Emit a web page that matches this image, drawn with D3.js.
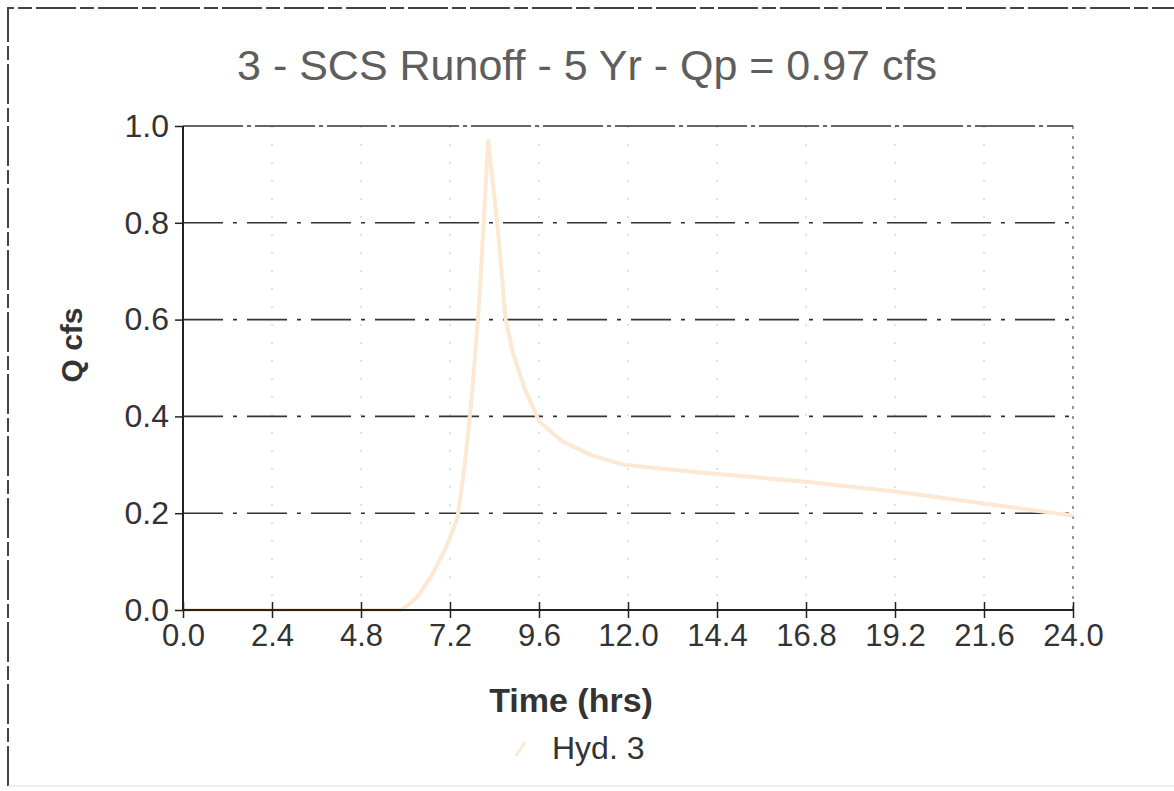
<!DOCTYPE html>
<html><head><meta charset="utf-8">
<script src="https://cdn.jsdelivr.net/npm/d3@7"></script>
<style>body{margin:0;background:#fff;} svg{display:block;font-family:"Liberation Sans",Arial,sans-serif;}</style>
</head><body>
<svg id="c" width="1174" height="791"></svg>
<script>
const titleText = "3 - SCS Runoff - 5 Yr - Qp = 0.97 cfs";
const xLabel = "Time (hrs)";
const yLabel = "Q cfs";
const seriesName = "Hyd. 3";
const xTicks = [0, 2.4, 4.8, 7.2, 9.6, 12.0, 14.4, 16.8, 19.2, 21.6, 24.0];
const yTicks = [0, 0.2, 0.4, 0.6, 0.8, 1.0];
const timeHrs = [0, 2.0, 4.0, 5.9, 6.3, 6.7, 7.1, 7.4, 7.6, 7.8, 8.0, 8.23, 8.5, 8.7, 8.9, 9.2, 9.6, 10.2, 11.0, 11.9, 13.8, 16.8, 19.2, 21.6, 24.0];
const flowCfs = [0, 0, 0, 0, 0.025, 0.07, 0.13, 0.19, 0.30, 0.45, 0.65, 0.97, 0.78, 0.60, 0.53, 0.46, 0.39, 0.35, 0.32, 0.30, 0.285, 0.265, 0.245, 0.22, 0.195];

const svg = d3.select("#c");
const x = d3.scaleLinear().domain([0, 24]).range([183, 1073]);
const y = d3.scaleLinear().domain([0, 1]).range([610, 126]);

// outer frame (scanned border)
svg.append("path").attr("d", "M8,786 L8,8 L1174,8")
  .attr("fill", "none").attr("stroke", "#444").attr("stroke-width", 2)
  .attr("stroke-dasharray", "40,4,14,4");
svg.append("line").attr("x1", 8).attr("x2", 1174).attr("y1", 786).attr("y2", 786)
  .attr("stroke", "#ddd").attr("stroke-width", 1);

// title
svg.append("text").attr("x", 587).attr("y", 80).attr("text-anchor", "middle")
  .attr("font-size", 43).attr("fill", "#5e5e5e").text(titleText);

// vertical faint dotted gridlines
svg.append("g").selectAll("line").data(xTicks.slice(1, -1)).join("line")
  .attr("x1", d => x(d)).attr("x2", d => x(d)).attr("y1", y(1)).attr("y2", y(0))
  .attr("stroke", "#c4c4c4").attr("stroke-width", 1).attr("stroke-dasharray", "2,16");
// right frame dotted
svg.append("line").attr("x1", x(24)).attr("x2", x(24)).attr("y1", y(1)).attr("y2", y(0))
  .attr("stroke", "#777").attr("stroke-width", 1.5).attr("stroke-dasharray", "3,7");

// horizontal dashed gridlines
svg.append("g").selectAll("line").data(yTicks.slice(1)).join("line")
  .attr("x1", x(0)).attr("x2", x(24)).attr("y1", d => y(d)).attr("y2", d => y(d))
  .attr("stroke", "#333").attr("stroke-width", 1.6)
  .attr("stroke-dasharray", d => d === 1 ? "60,4,4,4" : "40,10,4,10");

// curve
const line = d3.line().x((d, i) => x(timeHrs[i])).y(d => y(d)).curve(d3.curveLinear);
svg.append("path").datum(flowCfs).attr("d", line)
  .attr("fill", "none").attr("stroke", "#fde8d3").attr("stroke-width", 4)
  .attr("stroke-linejoin", "round");

// axes
const xAxis = d3.axisBottom(x).tickValues(xTicks).tickFormat(d3.format(".1f")).tickSize(7);
const gx = svg.append("g").attr("transform", `translate(0,${y(0)})`).call(xAxis);
gx.select(".domain").attr("d", `M${x(0)},0H${x(24)}`).attr("stroke", "#222").attr("stroke-width", 2);
gx.selectAll(".tick line").attr("y1", -8).attr("y2", 8).attr("stroke", "#222").attr("stroke-width", 1.5);
gx.selectAll(".tick text").attr("y", 14).attr("font-size", 31).attr("fill", "#333").attr("font-family", "Liberation Sans, Arial, sans-serif");

const yAxis = d3.axisLeft(y).tickValues(yTicks).tickFormat(d3.format(".1f")).tickSize(8);
const gy = svg.append("g").attr("transform", `translate(${x(0)},0)`).call(yAxis);
gy.select(".domain").attr("d", `M0,${y(0)}V${y(1)}`).attr("stroke", "#222").attr("stroke-width", 2);
gy.selectAll(".tick line").attr("stroke", "#222").attr("stroke-width", 1.5);
gy.selectAll(".tick text").attr("x", -14).attr("font-size", 32).attr("fill", "#333").attr("font-family", "Liberation Sans, Arial, sans-serif");

// axis labels
svg.append("text").attr("x", 571).attr("y", 712).attr("text-anchor", "middle")
  .attr("font-size", 34).attr("font-weight", "bold").attr("fill", "#333").text(xLabel);
svg.append("text").attr("transform", "translate(82,345) rotate(-90)").attr("text-anchor", "middle")
  .attr("font-size", 30).attr("font-weight", "bold").attr("fill", "#333").text(yLabel);

// legend
svg.append("line").attr("x1", 516).attr("y1", 756).attr("x2", 525).attr("y2", 742)
  .attr("stroke", "#fde8d3").attr("stroke-width", 3);
svg.append("text").attr("x", 552).attr("y", 759).attr("font-size", 32).attr("fill", "#333").text(seriesName);
</script>
</body></html>
